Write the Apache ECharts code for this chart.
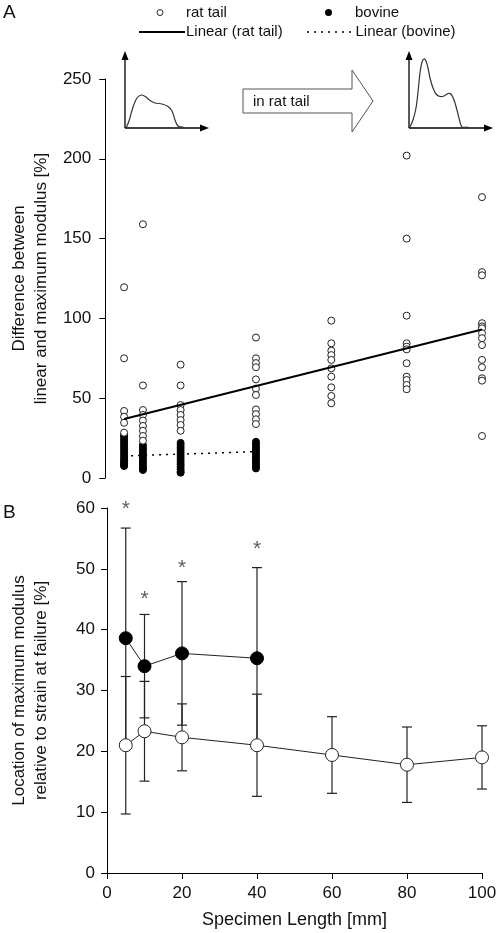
<!DOCTYPE html>
<html><head><meta charset="utf-8">
<script src="https://cdn.jsdelivr.net/npm/echarts@6/dist/echarts.min.js"></script>
<style>html,body{margin:0;padding:0;background:#fff}#c{width:500px;height:933px}</style>
</head><body><div id="c"></div>
<script>
// ---------- Panel A: difference between linear and maximum modulus [%] ----------
const ratA_5   = [119.5, 75, 42, 38.4, 34.6, 28.4];
const ratA_10  = [159, 58, 42.6, 39.5, 36, 32.6, 29.6, 26.3, 23.4];
const ratA_20  = [71, 58, 45.7, 42.6, 39.5, 36.3, 33.2, 29.6];
const ratA_40  = [88, 75, 72, 69.4, 61.8, 56, 52, 43, 40, 36.8, 33.8];
const ratA_60  = [98.6, 84.4, 79.8, 77, 74, 68.7, 63.5, 56.8, 51.4, 46.8];
const ratA_80  = [202, 150, 101.7, 84.4, 82.3, 80.6, 71.9, 63.5, 61.4, 58.3, 55.6];
const ratA_100 = [176, 129, 127, 97, 95, 93.8, 90.7, 87.6, 83.3, 74, 69.4, 62.5, 61, 26.3];

const bovA_5  = [27, 26, 24.5, 23, 21.5, 20, 18.5, 17, 15.5, 14, 12.5, 11, 10, 9, 8, 7.5];
const bovA_10 = [20.7, 19, 17.5, 16, 14.5, 13, 11.5, 10, 8.5, 7, 6, 5];
const bovA_20 = [22, 20.5, 19, 17.5, 16, 14.5, 13, 11.5, 10, 8.5, 7, 5.5, 4, 3.3];
const bovA_40 = [22.7, 21, 19.5, 18, 16.5, 15, 13.5, 12, 10.5, 9, 7.5, 6];

const ratTrendX = [5, 100];
const ratTrendY = [37, 93];
const bovTrendX = [5, 40];
const bovTrendY = [13.8, 16.5];

// ---------- Panel B: location of maximum modulus relative to strain at failure [%] ----------
const bovLengths = [5, 10, 20, 40];
const bovMean    = [38.6, 34.0, 36.1, 35.3];
const bovSD      = [18.1, 8.5, 11.8, 14.9];
const starY      = [60.5, 45.7, 50.7, 53.9];

const ratLengths = [5, 10, 20, 40, 60, 80, 100];
const ratMean    = [21, 23.3, 22.3, 21, 19.4, 17.8, 19];
const ratSD      = [11.3, 8.2, 5.5, 8.4, 6.3, 6.2, 5.2];

const yTicksA = [0, 50, 100, 150, 200, 250];
const yTicksB = [0, 10, 20, 30, 40, 50, 60];
const xTicksB = [0, 20, 40, 60, 80, 100];

// ---------- build ----------
const FONT = 'Liberation Sans, Arial, sans-serif';
const TXT = '#111';
const pts = (x, arr) => arr.map(v => [x, v]);
const ratA = [].concat(pts(5, ratA_5), pts(10, ratA_10), pts(20, ratA_20), pts(40, ratA_40),
                       pts(60, ratA_60), pts(80, ratA_80), pts(100, ratA_100));
const bovA = [].concat(pts(5, bovA_5), pts(10, bovA_10), pts(20, bovA_20), pts(40, bovA_40));
const zip = (xs, ys) => xs.map((x, i) => [x, ys[i]]);

function errItem(params, api) {
  const x = api.value(0), lo = api.value(1), hi = api.value(2);
  const pLo = api.coord([x, lo]), pHi = api.coord([x, hi]);
  const w = 5;
  const style = {stroke: '#222', lineWidth: 1.2, fill: null};
  return {type: 'group', children: [
    {type: 'line', shape: {x1: pLo[0], y1: pLo[1], x2: pHi[0], y2: pHi[1]}, style: style},
    {type: 'line', shape: {x1: pHi[0] - w, y1: pHi[1], x2: pHi[0] + w, y2: pHi[1]}, style: style},
    {type: 'line', shape: {x1: pLo[0] - w, y1: pLo[1], x2: pLo[0] + w, y2: pLo[1]}, style: style}
  ]};
}

const axisBase = {
  axisLine: {show: true, lineStyle: {color: '#000', width: 1}},
  axisTick: {show: true, length: 6, lineStyle: {color: '#000', width: 1}},
  splitLine: {show: false},
  axisLabel: {color: TXT, fontSize: 17, fontFamily: FONT, margin: 13}
};

const stroke = {stroke: '#333', lineWidth: 1.2, fill: null};
const head = (p) => ({type: 'polygon', shape: {points: p}, style: {fill: '#000'}});

const option = {
  animation: false,
  backgroundColor: '#fff',
  grid: [
    {left: 103, width: 379, top: 79, height: 399},
    {left: 104, width: 378, top: 508, height: 365}
  ],
  xAxis: [
    {gridIndex: 0, type: 'value', min: 0, max: 100, show: false},
    Object.assign({}, axisBase, {gridIndex: 1, type: 'value', min: 0, max: 100, interval: 20,
      axisLabel: Object.assign({}, axisBase.axisLabel, {margin: 12}),
      name: 'Specimen Length [mm]', nameLocation: 'middle', nameGap: 38,
      nameTextStyle: {color: TXT, fontSize: 18, fontFamily: FONT}})
  ],
  yAxis: [
    Object.assign({}, axisBase, {gridIndex: 0, type: 'value', min: 0, max: 250, interval: 50,
      axisLabel: Object.assign({}, axisBase.axisLabel, {margin: 14}),
      name: 'Difference between\nlinear and maximum modulus [%]', nameLocation: 'middle', nameGap: 50,
      nameTextStyle: {color: TXT, fontSize: 17, fontFamily: FONT, lineHeight: 22}}),
    Object.assign({}, axisBase, {gridIndex: 1, type: 'value', min: 0, max: 60, interval: 10,
      axisLabel: Object.assign({}, axisBase.axisLabel, {margin: 12}),
      name: 'Location of maximum modulus\nrelative to strain at failure [%]', nameLocation: 'middle', nameGap: 55,
      nameTextStyle: {color: TXT, fontSize: 17, fontFamily: FONT, lineHeight: 22}})
  ],
  series: [
    {type: 'scatter', name: 'bovine', xAxisIndex: 0, yAxisIndex: 0, data: bovA, symbol: 'circle', symbolSize: 7,
     itemStyle: {color: '#000', borderColor: '#000', borderWidth: 1, opacity: 1}, z: 2},
    {type: 'scatter', name: 'rat tail', xAxisIndex: 0, yAxisIndex: 0, data: ratA, symbol: 'circle', symbolSize: 7,
     itemStyle: {color: '#fff', borderColor: '#222', borderWidth: 1, opacity: 1}, z: 3},
    {type: 'line', name: 'Linear (rat tail)', xAxisIndex: 0, yAxisIndex: 0, data: zip(ratTrendX, ratTrendY),
     showSymbol: false, symbol: 'none', lineStyle: {color: '#000', width: 2}, z: 4},
    {type: 'line', name: 'Linear (bovine)', xAxisIndex: 0, yAxisIndex: 0, data: zip(bovTrendX, bovTrendY),
     showSymbol: false, symbol: 'none', lineStyle: {color: '#000', width: 1.5, type: [2, 5]}, z: 4},

    {type: 'custom', xAxisIndex: 1, yAxisIndex: 1, renderItem: errItem, encode: {x: 0, y: [1, 2]},
     data: bovLengths.map((x, i) => [x, bovMean[i] - bovSD[i], bovMean[i] + bovSD[i]]), z: 2},
    {type: 'custom', xAxisIndex: 1, yAxisIndex: 1, renderItem: errItem, encode: {x: 0, y: [1, 2]},
     data: ratLengths.map((x, i) => [x, ratMean[i] - ratSD[i], ratMean[i] + ratSD[i]]), z: 2},
    {type: 'line', xAxisIndex: 1, yAxisIndex: 1, data: zip(bovLengths, bovMean), symbol: 'circle', symbolSize: 13,
     showSymbol: true, lineStyle: {color: '#222', width: 1}, itemStyle: {color: '#000', borderColor: '#000', borderWidth: 1}, z: 5},
    {type: 'line', xAxisIndex: 1, yAxisIndex: 1, data: zip(ratLengths, ratMean), symbol: 'circle', symbolSize: 13,
     showSymbol: true, lineStyle: {color: '#222', width: 1}, itemStyle: {color: '#fff', borderColor: '#222', borderWidth: 1}, z: 5},
    {type: 'scatter', xAxisIndex: 1, yAxisIndex: 1, data: zip(bovLengths, starY), symbolSize: 1, clip: false,
     itemStyle: {color: 'rgba(0,0,0,0)'},
     label: {show: true, formatter: '*', position: 'inside', offset: [0, 4], fontSize: 21, color: '#333', fontFamily: FONT}, z: 6}
  ],
  graphic: [
    {type: 'text', left: 3, top: 3, style: {text: 'A', fontSize: 19, fontFamily: FONT, fill: TXT}},
    {type: 'text', left: 3, top: 503, style: {text: 'B', fontSize: 19, fontFamily: FONT, fill: TXT}},
    // legend
    {type: 'circle', shape: {cx: 160, cy: 12.5, r: 3}, style: {fill: '#fff', stroke: '#222', lineWidth: 1}},
    {type: 'text', x: 186, y: 12.5, style: {text: 'rat tail', fontSize: 15, fontFamily: FONT, fill: TXT, verticalAlign: 'middle'}},
    {type: 'circle', shape: {cx: 328.5, cy: 12.5, r: 3.5}, style: {fill: '#000'}},
    {type: 'text', x: 355, y: 12.5, style: {text: 'bovine', fontSize: 15, fontFamily: FONT, fill: TXT, verticalAlign: 'middle'}},
    {type: 'line', shape: {x1: 139, y1: 32, x2: 185, y2: 32}, style: {stroke: '#000', lineWidth: 2}},
    {type: 'text', x: 186, y: 32, style: {text: 'Linear (rat tail)', fontSize: 15, fontFamily: FONT, fill: TXT, verticalAlign: 'middle'}},
    {type: 'line', shape: {x1: 307, y1: 32, x2: 354, y2: 32}, style: {stroke: '#000', lineWidth: 1.3, lineDash: [2, 5]}},
    {type: 'text', x: 355.5, y: 32, style: {text: 'Linear (bovine)', fontSize: 15, fontFamily: FONT, fill: TXT, verticalAlign: 'middle'}},
    // inset left
    {type: 'polyline', shape: {points: [[125, 128], [125, 58]]}, style: {stroke: '#000', lineWidth: 1.3}},
    head([[121.5, 60], [125, 51], [128.5, 60]]),
    {type: 'polyline', shape: {points: [[125, 128], [202, 128]]}, style: {stroke: '#000', lineWidth: 1.3}},
    head([[200, 124.5], [209, 128], [200, 131.5]]),
    {type: 'polyline', shape: {points: [[126.5, 127], [129, 121], [133, 107], [137, 98], [141.5, 95], [146, 97],
      [150, 100.5], [155, 103], [162, 104], [168, 106.5], [172, 111], [175, 120], [178, 126], [183.5, 127]], smooth: 0.3},
     style: stroke},
    // inset right
    {type: 'polyline', shape: {points: [[409, 128], [409, 58]]}, style: {stroke: '#000', lineWidth: 1.3}},
    head([[405.5, 60], [409, 51], [412.5, 60]]),
    {type: 'polyline', shape: {points: [[409, 128], [486, 128]]}, style: {stroke: '#000', lineWidth: 1.3}},
    head([[484, 124.5], [493, 128], [484, 131.5]]),
    {type: 'polyline', shape: {points: [[410, 127], [413, 120], [416, 108], [418, 92], [420, 73], [422, 62], [424, 59],
      [426, 61], [428, 68], [430, 78], [433, 88], [436, 94], [440, 96.5], [444, 96], [448, 93.5], [451, 94], [454, 100],
      [457, 110], [460, 122], [462, 127], [468, 127]], smooth: 0.3},
     style: stroke},
    // big arrow
    {type: 'polygon', shape: {points: [[243, 89], [352, 89], [352, 70], [373, 101], [352, 132], [352, 113], [243, 113]]},
     style: {fill: '#fff', stroke: '#555', lineWidth: 1}},
    {type: 'text', x: 253, y: 101.5, style: {text: 'in rat tail', fontSize: 15, fontFamily: FONT, fill: TXT, verticalAlign: 'middle'}}
  ]
};

const chart = echarts.init(document.getElementById('c'), null, {renderer: 'canvas'});
chart.setOption(option);
</script>
</body></html>
